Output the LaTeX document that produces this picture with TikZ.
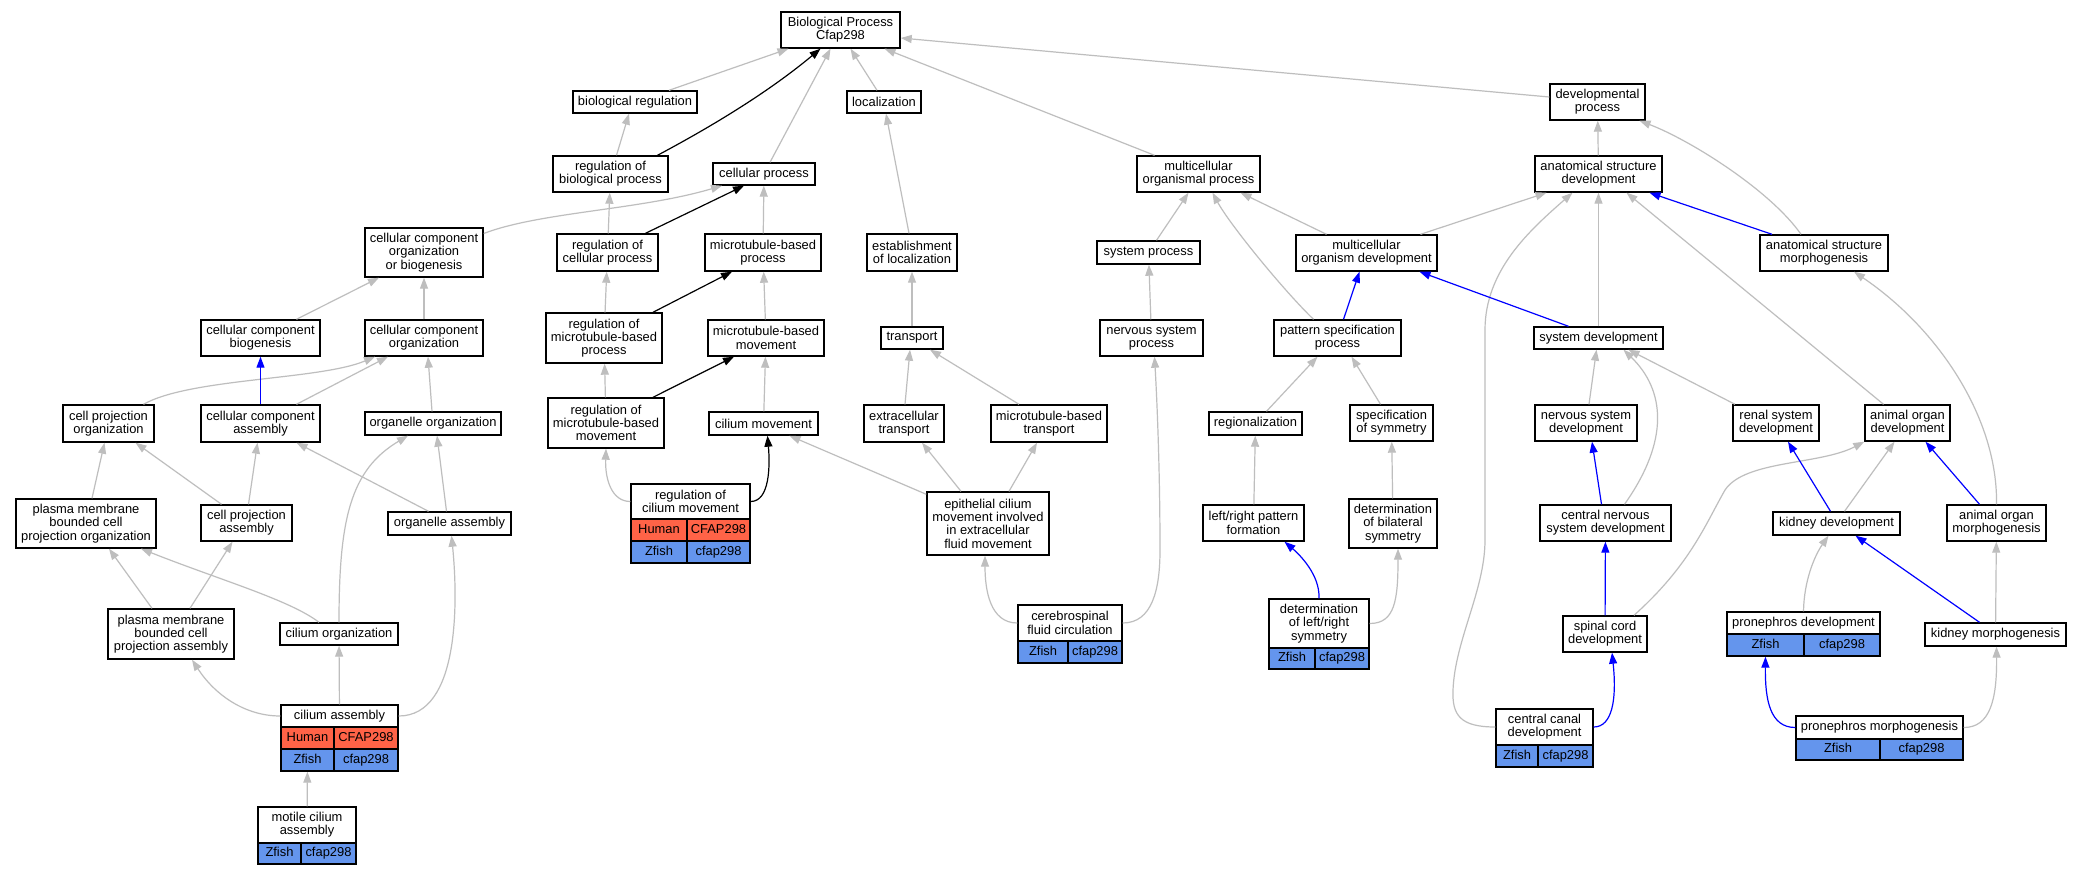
\documentclass[tikz,border=0pt]{standalone}
\usepackage{fontspec}
\setmainfont{Liberation Sans}
\usetikzlibrary{arrows.meta}
\definecolor{humanred}{HTML}{FF6347}
\definecolor{zfishblue}{HTML}{6495ED}
\definecolor{isagray}{HTML}{BEBEBE}
\tikzset{
  term/.style={draw, line width=1.4pt, fill=white, align=center, inner sep=0pt,
    font=\fontsize{12.9}{13.3}\selectfont},
  sz/.style 2 args={minimum width=#1pt, minimum height=#2pt},
  human/.style={term, fill=humanred, text height=9.4pt, text depth=2.8pt},
  zfish/.style={term, fill=zfishblue, text height=9.4pt, text depth=2.8pt},
  link/.style={line width=1.2pt, -{Triangle[length=11pt,width=8pt]}}
}
\begin{document}
\begin{tikzpicture}[x=1pt,y=-1pt]
      \useasboundingbox (0,0) rectangle (2081,875);
      \fill[white] (0,0) rectangle (2081,875);
      \node[term, sz={119}{36}] (root) at (840.5,30) {Biological Process\\Cfap298};
      \node[term, sz={124}{22}] (bioreg) at (635,102) {biological regulation};
      \node[term, sz={115}{36}] (regbio) at (610.5,174) {regulation of\\biological process};
      \node[term, sz={102}{22}] (cellproc) at (764,174) {cellular process};
      \node[term, sz={74}{22}] (local) at (884,102) {localization};
      \node[term, sz={123}{36}] (mop) at (1198.5,174) {multicellular\\organismal process};
      \node[term, sz={95}{36}] (devproc) at (1597.5,102) {developmental\\process};
      \node[term, sz={118}{49}] (ccob) at (424,252.5) {cellular component\\organization\\or biogenesis};
      \node[term, sz={101}{37}] (regcell) at (607.5,252.5) {regulation of\\cellular process};
      \node[term, sz={116}{37}] (mtproc) at (763,252.5) {microtubule-based\\process};
      \node[term, sz={90}{37}] (estloc) at (912,252.5) {establishment\\of localization};
      \node[term, sz={103}{23}] (sysproc) at (1148.5,252.5) {system process};
      \node[term, sz={127}{36}] (asd) at (1598.5,174) {anatomical structure\\development};
      \node[term, sz={141}{36}] (mod) at (1366.5,253) {multicellular\\organism development};
      \node[term, sz={128}{36}] (asm) at (1824,253) {anatomical structure\\morphogenesis};
      \node[term, sz={119}{36}] (ccbio) at (260.5,338) {cellular component\\biogenesis};
      \node[term, sz={118}{36}] (ccorg) at (424,338) {cellular component\\organization};
      \node[term, sz={116}{50}] (regmtp) at (604,338) {regulation of\\microtubule-based\\process};
      \node[term, sz={116}{36}] (mtmove) at (766,338) {microtubule-based\\movement};
      \node[term, sz={62}{22}] (transport) at (912,338) {transport};
      \node[term, sz={103}{36}] (nsproc) at (1151.5,338) {nervous system\\process};
      \node[term, sz={127}{36}] (psp) at (1337.5,338) {pattern specification\\process};
      \node[term, sz={129}{22}] (sysdev) at (1598.5,338) {system development};
      \node[term, sz={91}{37}] (cpo) at (108.5,423.5) {cell projection\\organization};
      \node[term, sz={119}{37}] (cca) at (260.5,423.5) {cellular component\\assembly};
      \node[term, sz={136}{23}] (orgorg) at (433,423.5) {organelle organization};
      \node[term, sz={116}{50}] (regmtm) at (606,423) {regulation of\\microtubule-based\\movement};
      \node[term, sz={109}{23}] (cilmove) at (763.5,423.5) {cilium movement};
      \node[term, sz={80}{37}] (extrans) at (904,423.5) {extracellular\\transport};
      \node[term, sz={116}{37}] (mttrans) at (1049,423.5) {microtubule-based\\transport};
      \node[term, sz={93}{23}] (region) at (1255.5,423.5) {regionalization};
      \node[term, sz={83}{36}] (specsym) at (1391.5,423) {specification\\of symmetry};
      \node[term, sz={102}{36}] (nsdev) at (1586,423) {nervous system\\development};
      \node[term, sz={86}{36}] (renal) at (1776,423) {renal system\\development};
      \node[term, sz={85}{36}] (aod) at (1907.5,423) {animal organ\\development};
      \node[term, sz={140}{49}] (pmbcpo) at (86,523.5) {plasma membrane\\bounded cell\\projection organization};
      \node[term, sz={91}{36}] (cpa) at (246.5,523) {cell projection\\assembly};
      \node[term, sz={123}{23}] (orgasm) at (449.5,523.5) {organelle assembly};
      \node[term, sz={119}{35}] (regcm) at (690.5,501.5) {regulation of\\cilium movement};
      \node[human, sz={56}{22}] (regcmH) at (659,530) {Human};
      \node[human, sz={63}{22}] (regcmHg) at (718.5,530) {CFAP298};
      \node[zfish, sz={56}{22}] (regcmZ) at (659,552) {Zfish};
      \node[zfish, sz={63}{22}] (regcmZg) at (718.5,552) {cfap298};
      \node[term, sz={122}{63}] (ecm) at (988,523.5) {epithelial cilium\\movement involved\\in extracellular\\fluid movement};
      \node[term, sz={101}{36}] (lrpf) at (1253.5,523) {left/right pattern\\formation};
      \node[term, sz={88}{49}] (dbs) at (1393,523.5) {determination\\of bilateral\\symmetry};
      \node[term, sz={131}{36}] (cnsdev) at (1605.5,523) {central nervous\\system development};
      \node[term, sz={127}{23}] (kidev) at (1836.5,523.5) {kidney development};
      \node[term, sz={99}{36}] (aom) at (1996.5,523) {animal organ\\morphogenesis};
      \node[term, sz={126}{50}] (pmbcpa) at (171,634) {plasma membrane\\bounded cell\\projection assembly};
      \node[term, sz={118}{22}] (cilorg) at (339,634) {cilium organization};
      \node[term, sz={104}{36}] (csf) at (1070,623) {cerebrospinal\\fluid circulation};
      \node[zfish, sz={50}{22}] (csfZ) at (1043,652) {Zfish};
      \node[zfish, sz={54}{22}] (csfZg) at (1095,652) {cfap298};
      \node[term, sz={100}{49}] (dlrs) at (1319,623.5) {determination\\of left/right\\symmetry};
      \node[zfish, sz={46}{21}] (dlrsZ) at (1292,658.5) {Zfish};
      \node[zfish, sz={54}{21}] (dlrsZg) at (1342,658.5) {cfap298};
      \node[term, sz={84}{36}] (scd) at (1605,634) {spinal cord\\development};
      \node[term, sz={153}{22}] (prodev) at (1803.5,623) {pronephros development};
      \node[zfish, sz={77}{22}] (prodevZ) at (1765.5,645) {Zfish};
      \node[zfish, sz={76}{22}] (prodevZg) at (1842,645) {cfap298};
      \node[term, sz={141}{23}] (kimorph) at (1995.5,634.5) {kidney morphogenesis};
      \node[term, sz={117}{22}] (cilasm) at (339.5,716) {cilium assembly};
      \node[human, sz={53}{22}] (cilasmH) at (307.5,738) {Human};
      \node[human, sz={64}{22}] (cilasmHg) at (366,738) {CFAP298};
      \node[zfish, sz={53}{22}] (cilasmZ) at (307.5,760) {Zfish};
      \node[zfish, sz={64}{22}] (cilasmZg) at (366,760) {cfap298};
      \node[term, sz={97}{36}] (ccd) at (1544.5,727) {central canal\\development};
      \node[zfish, sz={42}{22}] (ccdZ) at (1517,756) {Zfish};
      \node[zfish, sz={55}{22}] (ccdZg) at (1565.5,756) {cfap298};
      \node[term, sz={167}{23}] (promorph) at (1879.5,727.5) {pronephros morphogenesis};
      \node[zfish, sz={84}{21}] (promorphZ) at (1838,749.5) {Zfish};
      \node[zfish, sz={83}{21}] (promorphZg) at (1921.5,749.5) {cfap298};
      \node[term, sz={98}{36}] (mca) at (307,825) {motile cilium\\assembly};
      \node[zfish, sz={43}{21}] (mcaZ) at (279.5,853.5) {Zfish};
      \node[zfish, sz={55}{21}] (mcaZg) at (328.5,853.5) {cfap298};
      \begin{scope}[link, isagray]
        \draw ([xshift=34pt]bioreg.north) to ([xshift=-52pt]root.south);
        \draw ([xshift=6pt]regbio.north) to ([xshift=-6pt]bioreg.south);
        \draw ([xshift=6pt]cellproc.north) to ([xshift=-10pt]root.south);
        \draw ([xshift=-7pt]local.north) to ([xshift=10pt]root.south);
        \draw ([xshift=-44pt]mop.north) to ([xshift=44pt]root.south);
        \draw ([yshift=5pt]devproc.west) to ([yshift=-8pt]root.east);
        \draw ([yshift=19pt]ccob.east) .. controls (540,212) and (640,210) .. ([xshift=-42pt]cellproc.south);
        \draw (regcell) to (regbio);
        \draw (mtproc) to (cellproc);
        \draw ([xshift=-3pt]estloc.north) to ([xshift=2pt]local.south);
        \draw ([xshift=8pt]sysproc.north) to ([xshift=-10pt]mop.south);
        \draw ([xshift=-40pt]mod.north) to ([xshift=42pt]mop.south);
        \draw ([xshift=-24pt]psp.north) .. controls (1285,292) and (1230,225) .. ([xshift=14pt]mop.south);
        \draw ([xshift=54pt]mod.north) to ([xshift=-52pt]asd.south);
        \draw (asd) to (devproc);
        \draw ([xshift=-23pt]asm.north) .. controls (1770,190) and (1690,140) .. ([xshift=42pt]devproc.south);
        \draw ([xshift=36pt]ccbio.north) to ([xshift=-45pt]ccob.south);
        \draw (ccorg) to (ccob);
        \draw (regmtp) to (regcell);
        \draw (mtmove) to (mtproc);
        \draw (transport) to (estloc);
        \draw (nsproc) to (sysproc);
        \draw (sysdev) to (asd);
        \draw (ccd.west) .. controls (1460,727) and (1452,715) .. (1453,690)
          .. controls (1455,640) and (1485,590) .. (1485,540) -- (1485,330)
          .. controls (1485,270) and (1530,230) .. ([xshift=-26pt]asd.south);
        \draw ([xshift=-24pt]aod.north) to ([xshift=28pt]asd.south);
        \draw ([xshift=35pt]cpo.north) .. controls (190,378) and (320,380) .. ([xshift=-49pt]ccorg.south);
        \draw ([xshift=36pt]cca.north) to ([xshift=-36pt]ccorg.south);
        \draw ([xshift=-1pt]orgorg.north) to ([xshift=4pt]ccorg.south);
        \draw (regmtm) to (regmtp);
        \draw (cilmove) to (mtmove);
        \draw ([xshift=1pt]extrans.north) to ([xshift=-2pt]transport.south);
        \draw ([xshift=-30pt]mttrans.north) to ([xshift=18pt]transport.south);
        \draw (csf.east) .. controls (1152,623) and (1160,590) .. (1160,550)
          .. controls (1160,470) and (1157,400) .. ([xshift=3pt]nsproc.south);
        \draw ([xshift=11pt]region.north) to ([xshift=-20pt]psp.south);
        \draw ([xshift=-11pt]specsym.north) to ([xshift=14pt]psp.south);
        \draw ([xshift=3pt]nsdev.north) to ([xshift=-2pt]sysdev.south);
        \draw ([xshift=19pt]cnsdev.north) .. controls (1670,440) and (1665,390) .. ([xshift=25pt]sysdev.south);
        \draw ([xshift=-41pt]renal.north) to ([xshift=30pt]sysdev.south);
        \draw ([xshift=8pt]kidev.north) to ([xshift=-13pt]aod.south);
        \draw ([xshift=29pt]scd.north) .. controls (1690,565) and (1705,525) .. (1725,490)
          .. controls (1745,460) and (1820,465) .. (aod.south west);
        \draw (aom.north) .. controls (1998,420) and (1940,330) .. ([xshift=30pt]asm.south);
        \draw ([xshift=6pt]pmbcpo.north) to ([xshift=-4pt]cpo.south);
        \draw ([xshift=-25pt]cpa.north) to ([xshift=27pt]cpo.south);
        \draw ([xshift=2pt]cpa.north) to ([xshift=-3pt]cca.south);
        \draw ([xshift=-21pt]orgasm.north) to ([xshift=36pt]cca.south);
        \draw ([xshift=-3pt]orgasm.north) to ([xshift=4pt]orgorg.south);
        \draw (regcm.west) .. controls (612,501.5) and (605,480) .. (regmtm.south);
        \draw ([yshift=-3pt]ecm.north west) to ([xshift=26pt]cilmove.south);
        \draw ([xshift=-27pt]ecm.north) to ([xshift=18pt]extrans.south);
        \draw ([xshift=21pt]ecm.north) to ([xshift=-12pt]mttrans.south);
        \draw (lrpf) to (region);
        \draw (dbs) to (specsym);
        \draw ([xshift=-19pt]pmbcpa.north) to ([xshift=23pt]pmbcpo.south);
        \draw ([xshift=19pt]pmbcpa.north) to ([xshift=-14pt]cpa.south);
        \draw ([xshift=-20pt]cilorg.north) .. controls (290,600) and (220,580) .. ([xshift=55pt]pmbcpo.south);
        \draw (cilorg.north) .. controls (339,520) and (350,470) .. ([xshift=-25pt]orgorg.south);
        \draw (cilasm.west) .. controls (245,716) and (215,695) .. ([xshift=21pt]pmbcpa.south);
        \draw (cilasm) to (cilorg);
        \draw (cilasm.east) .. controls (460,716) and (458,600) .. ([xshift=2pt]orgasm.south);
        \draw (csf.west) .. controls (990,623) and (985,590) .. ([xshift=-3pt]ecm.south);
        \draw (dlrs.east) .. controls (1395,623.5) and (1398,600) .. ([xshift=5pt]dbs.south);
        \draw (prodev.north) .. controls (1804,580) and (1815,555) .. ([xshift=-8pt]kidev.south);
        \draw (kimorph) to (aom);
        \draw (promorph.east) .. controls (1990,727.5) and (1997,700) .. ([xshift=1pt]kimorph.south);
        \draw (mca) to (cilasmZ);
      \end{scope}
      \begin{scope}[link, black]
        \draw ([xshift=47pt]regbio.north) .. controls (705,130) and (765,95) .. ([xshift=-20pt]root.south);
        \draw ([xshift=38pt]regcell.north) to ([xshift=-20pt]cellproc.south);
        \draw ([xshift=49pt]regmtp.north) to ([xshift=-31pt]mtproc.south);
        \draw ([xshift=47pt]regmtm.north) to ([xshift=-32pt]mtmove.south);
        \draw (regcm.east) .. controls (770,501.5) and (770,465) .. ([xshift=4pt]cilmove.south);
      \end{scope}
      \begin{scope}[link, blue]
        \draw ([xshift=-52pt]asm.north) to ([xshift=51pt]asd.south);
        \draw ([xshift=6pt]psp.north) to ([xshift=-7pt]mod.south);
        \draw ([xshift=-30pt]sysdev.north) to ([xshift=53pt]mod.south);
        \draw (cca) to (ccbio);
        \draw ([xshift=-4pt]cnsdev.north) to ([xshift=6pt]nsdev.south);
        \draw ([xshift=-6pt]kidev.north) to ([xshift=12pt]renal.south);
        \draw ([xshift=-17pt]aom.north) to ([xshift=18pt]aod.south);
        \draw (dlrs.north) .. controls (1320,575) and (1300,555) .. ([xshift=31pt]lrpf.south);
        \draw (scd) to (cnsdev);
        \draw ([xshift=-16pt]kimorph.north) to ([xshift=19pt]kidev.south);
        \draw (ccd.east) .. controls (1612,727) and (1617,700) .. ([xshift=7pt]scd.south);
        \draw (promorph.west) .. controls (1770,727.5) and (1765,700) .. (prodevZ.south);
      \end{scope}
    \end{tikzpicture}
\end{document}
